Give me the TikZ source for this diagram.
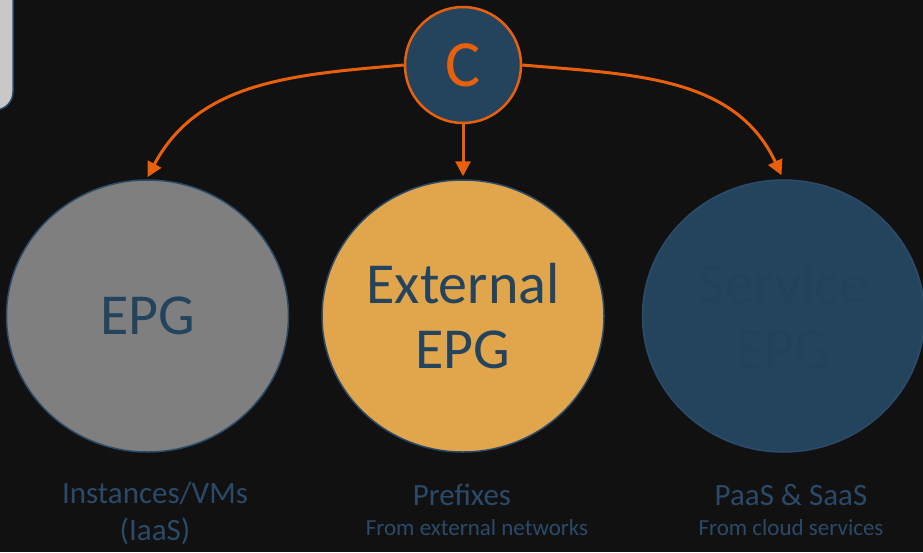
\documentclass[tikz,border=0pt]{standalone}
\usepackage{fontspec}
\setmainfont{Carlito}
\usetikzlibrary{arrows.meta,positioning,shapes.geometric}
\definecolor{bgdark}{HTML}{111111}
\definecolor{navy}{HTML}{24445E}
\definecolor{navytext}{HTML}{22425B}
\definecolor{edgeblue}{HTML}{2B4C69}
\definecolor{orng}{HTML}{E8600C}
\definecolor{epggray}{HTML}{7F7F7F}
\definecolor{extgold}{HTML}{E1A64B}
\definecolor{panelgray}{HTML}{C8C8C8}
\definecolor{lblblue}{HTML}{2A4A68}

\begin{document}
\begin{tikzpicture}[x=1pt,y=-1pt,node distance=55pt,
        blob/.style={ellipse,draw=edgeblue,line width=1.5pt,minimum width=282pt,minimum height=272pt,
          inner sep=0pt,align=center,text=navy,font=\fontsize{58}{65}\selectfont},
        hub/.style={circle,draw=orng,fill=navy,line width=2.5pt,minimum size=116pt,inner sep=0pt,
          text=orng,font=\fontsize{66}{66}\selectfont},
        lbl/.style={text=lblblue,align=center,font=\fontsize{31}{37}\selectfont},
        sublbl/.style={text=lblblue,align=center,font=\fontsize{23}{24}\selectfont},
        link/.style={-{Triangle[length=15pt,width=15pt]},draw=orng,line width=3pt}]
        \fill[bgdark] (0,0) rectangle (923,552);
        \useasboundingbox (0,0) rectangle (923,552);
        \clip (0,0) rectangle (923,552);
        % panel edge at top left
        \draw[edgeblue,fill=panelgray,line width=1.5pt,rounded corners=18pt] (-40,-40) rectangle (13,110);
        \node[hub] (c) at (463,65) {C};
        \node[blob,fill=extgold,below=of c] (ext) {External\\EPG};
        \node[blob,fill=epggray,left=32pt of ext] (epg) {EPG};
        \node[blob,fill=navy,text=navytext,right=37pt of ext] (svc) {Service\\EPG};
        \draw[link] (c.west) to[out=185,in=62] ([yshift=2pt]epg.north);
        \draw[link] (c.south) -- ([yshift=3pt]ext.north);
        \draw[link] (c.east) to[out=-5,in=115] ([xshift=-2pt,yshift=4pt]svc.north);
        % captions
        \node[lbl] (lblepg) at (155,513) {Instances/VMs\\(IaaS)};
        \node[lbl] (lblext) at (462,495) {Prefixes};
        \node[sublbl] (subext) at (477,528) {From external networks};
        \node[lbl] (lblsvc) at (791,495) {PaaS \& SaaS};
        \node[sublbl] (subsvc) at (791,528) {From cloud services};
      \end{tikzpicture}
\end{document}
